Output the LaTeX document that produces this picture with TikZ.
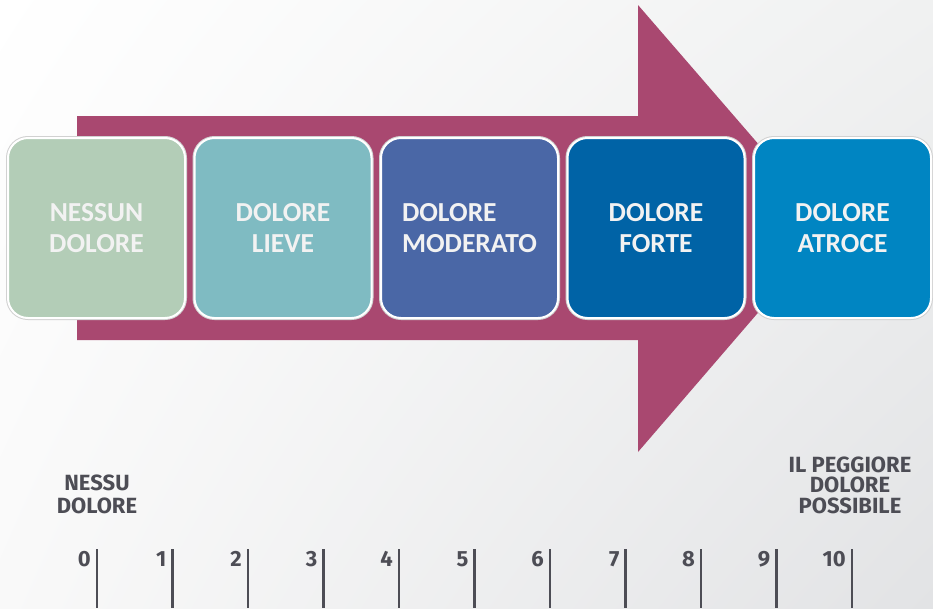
\documentclass[tikz,border=0pt]{standalone}
\usepackage{fontspec}
\setmainfont{Carlito}
\newfontfamily\scalefont{Fira Sans}
\usetikzlibrary{shadings}
\definecolor{arrowmag}{RGB}{169,72,112}
\definecolor{nessuncol}{RGB}{179,205,183}
\definecolor{lievecol}{RGB}{127,187,194}
\definecolor{moderatocol}{RGB}{74,103,166}
\definecolor{fortecol}{RGB}{0,99,166}
\definecolor{atrocecol}{RGB}{0,133,194}
\definecolor{boxtext}{RGB}{242,242,242}
\definecolor{scalegray}{RGB}{77,77,85}
\definecolor{bgtr}{RGB}{240,241,241}
\definecolor{bgbl}{RGB}{249,249,249}
\definecolor{bgbr}{RGB}{226,227,229}
\tikzset{
  painstep/.style={rectangle, rounded corners=20pt, minimum width=177pt, minimum height=180pt, inner sep=0pt,
    draw=white, line width=2pt, preaction={draw=black!18, line width=4pt},
    text=boxtext, align=center, font=\fontsize{27.5}{31}\selectfont\bfseries},
  scalelabel/.style={text=scalegray, align=center, inner sep=0pt, font=\scalefont\bfseries\fontsize{22}{23}\selectfont},
  scalenum/.style={text=scalegray, anchor=north east, inner sep=0pt, font=\scalefont\bfseries\fontsize{22}{22}\selectfont},
  scaletick/.style={draw=scalegray, line width=2.5pt}
}
\newcommand{\painbox}[5][] {\node at (#2) (#3) [painstep, fill=#4, #1] {#5};}
\newcommand{\scalemark}[2] {\coordinate (tick#2) at (#1,549); \coordinate (foot#2) at (#1,608);
  \draw [scaletick] (tick#2) -- (foot#2); \node at (#1-6,551) (num#2) [scalenum] {#2};}
\begin{document}
\begin{tikzpicture}[x=1pt, y=-1pt]

\useasboundingbox (0,0) rectangle (933,608);
\shade [upper left=white, upper right=bgtr, lower left=bgbl, lower right=bgbr] (0,0) rectangle (933,608);

% big arrow behind the boxes
\fill [arrowmag] (77,116) -- (638,116) -- (638,5) -- (831,228) -- (638,452) -- (638,340) -- (77,340) -- cycle;

\painbox {96.5,228}{nessun}{nessuncol}{NESSUN\\DOLORE};
\painbox {283,228}{lieve}{lievecol}{DOLORE\\LIEVE};
\painbox[align=left] {469.5,228}{moderato}{moderatocol}{DOLORE\\MODERATO};
\painbox {656,228}{forte}{fortecol}{DOLORE\\FORTE};
\painbox {842.5,228}{atroce}{atrocecol}{DOLORE\\ATROCE};

% scale 0-10
\node at (97,494) (nessu) [scalelabel] {NESSU\\DOLORE};
\node at (850,485) (peggiore) [scalelabel, font=\scalefont\bfseries\fontsize{22}{20.5}\selectfont] {IL PEGGIORE\\DOLORE\\POSSIBILE};

\scalemark{97}{0};
\scalemark{172.5}{1};
\scalemark{248}{2};
\scalemark{323.5}{3};
\scalemark{399}{4};
\scalemark{474.5}{5};
\scalemark{550}{6};
\scalemark{625.5}{7};
\scalemark{701}{8};
\scalemark{776.5}{9};
\scalemark{852}{10};

\end{tikzpicture}
\end{document}
